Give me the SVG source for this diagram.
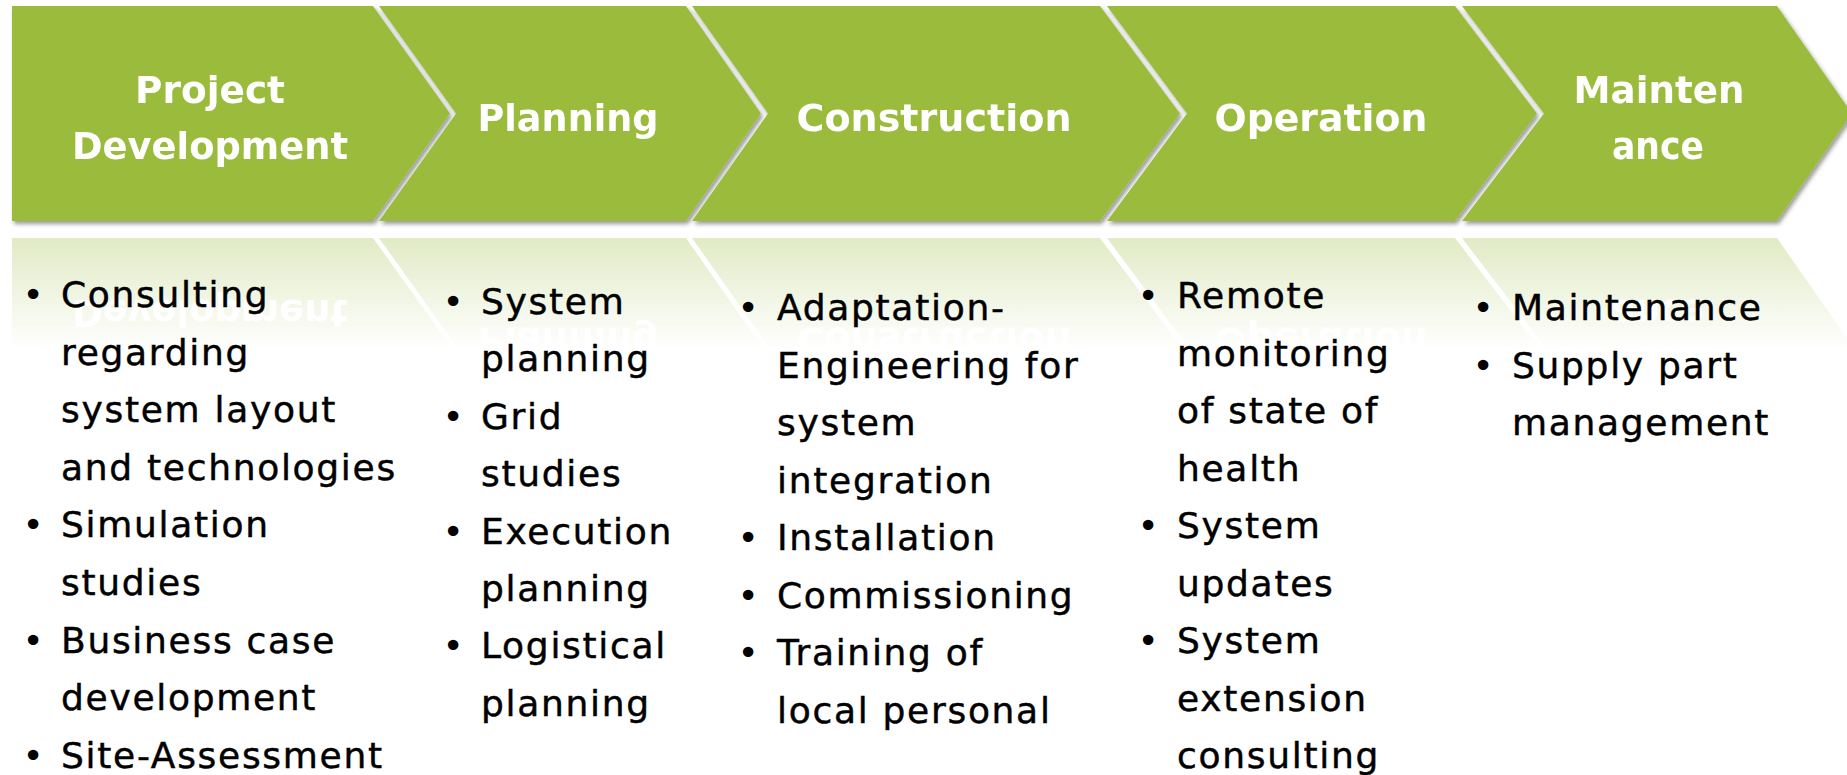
<svg xmlns="http://www.w3.org/2000/svg" xmlns:xlink="http://www.w3.org/1999/xlink" width="1847" height="775" viewBox="0 0 1847 775">
  <style>
    .chev { fill: #9BBB3E; }
    .head { font-family: "DejaVu Sans", "Liberation Sans", sans-serif; font-weight: bold; font-size: 38px; fill: #FFFFFF; text-anchor: middle; }
    .body { font-family: "DejaVu Sans", "Liberation Sans", sans-serif; font-size: 36px; fill: #000000; stroke: #000000; stroke-width: 0.45px; letter-spacing: 1.7px; }
    .bul { font-family: "DejaVu Sans", "Liberation Sans", sans-serif; font-size: 36px; fill: #000000; text-anchor: middle; }
  </style>
  <defs>
    <filter id="shadow" x="-5%" y="-10%" width="110%" height="130%">
      <feDropShadow dx="2" dy="3" stdDeviation="2.2" flood-color="#000000" flood-opacity="0.4"/>
    </filter>
    <linearGradient id="fadeGrad" gradientUnits="userSpaceOnUse" x1="0" y1="238" x2="0" y2="350">
      <stop offset="0" stop-color="#FFFFFF" stop-opacity="0.3"/>
      <stop offset="1" stop-color="#FFFFFF" stop-opacity="0"/>
    </linearGradient>
    <mask id="fade" maskUnits="userSpaceOnUse" x="0" y="230" width="1847" height="140">
      <rect x="0" y="230" width="1847" height="140" fill="url(#fadeGrad)"/>
    </mask>
  </defs>
  <rect x="0" y="0" width="1847" height="775" fill="#FFFFFF"/>

  <!-- reflection of the chevron row -->
  <g id="reflection" mask="url(#fade)">
    <use xlink:href="#chevrons" href="#chevrons" transform="translate(0,459) scale(1,-1)"/>
  </g>

  <g filter="url(#shadow)">
    <g id="chevrons">
      <g id="node-project-development">
        <polygon class="chev" points="12,6 373,6 450,113.5 373,221 12,221"/>
        <text class="head" x="210" y="103" textLength="150" lengthAdjust="spacingAndGlyphs">Project</text>
        <text class="head" x="210" y="159" textLength="276" lengthAdjust="spacingAndGlyphs">Development</text>
      </g>
      <g id="node-planning">
        <polygon class="chev" points="379,6 686,6 761,113.5 686,221 379,221 456,113.5"/>
        <text class="head" x="568" y="131" textLength="181" lengthAdjust="spacingAndGlyphs">Planning</text>
      </g>
      <g id="node-construction">
        <polygon class="chev" points="692,6 1100,6 1180,113.5 1100,221 692,221 768,113.5"/>
        <text class="head" x="934" y="131" textLength="275" lengthAdjust="spacingAndGlyphs">Construction</text>
      </g>
      <g id="node-operation">
        <polygon class="chev" points="1107,6 1455,6 1537,113.5 1455,221 1107,221 1187,113.5"/>
        <text class="head" x="1321" y="131" textLength="213" lengthAdjust="spacingAndGlyphs">Operation</text>
      </g>
      <g id="node-maintenance">
        <polygon class="chev" points="1462,6 1777,6 1852,113.5 1777,221 1462,221 1544,113.5"/>
        <text class="head" x="1659" y="103" textLength="171" lengthAdjust="spacingAndGlyphs">Mainten</text>
        <text class="head" x="1658" y="159" textLength="92" lengthAdjust="spacingAndGlyphs">ance</text>
      </g>
    </g>
  </g>

  <g id="connectors"></g>

  <g id="list-project-development">
    <text class="bul" x="33" y="307">•</text>
    <text class="body" x="61" y="307">Consulting</text>
    <text class="body" x="61" y="364.6">regarding</text>
    <text class="body" x="61" y="422.2">system layout</text>
    <text class="body" x="61" y="479.8">and technologies</text>
    <text class="bul" x="33" y="537.4">•</text>
    <text class="body" x="61" y="537.4">Simulation</text>
    <text class="body" x="61" y="595">studies</text>
    <text class="bul" x="33" y="652.6">•</text>
    <text class="body" x="61" y="652.6">Business case</text>
    <text class="body" x="61" y="710.2">development</text>
    <text class="bul" x="33" y="767.8">•</text>
    <text class="body" x="61" y="767.8">Site-Assessment</text>
  </g>

  <g id="list-planning">
    <text class="bul" x="453" y="314">•</text>
    <text class="body" x="481" y="314">System</text>
    <text class="body" x="481" y="371.4">planning</text>
    <text class="bul" x="453" y="428.8">•</text>
    <text class="body" x="481" y="428.8">Grid</text>
    <text class="body" x="481" y="486.2">studies</text>
    <text class="bul" x="453" y="543.6">•</text>
    <text class="body" x="481" y="543.6">Execution</text>
    <text class="body" x="481" y="601">planning</text>
    <text class="bul" x="453" y="658.4">•</text>
    <text class="body" x="481" y="658.4">Logistical</text>
    <text class="body" x="481" y="715.8">planning</text>
  </g>

  <g id="list-construction">
    <text class="bul" x="748" y="320">•</text>
    <text class="body" x="777" y="320">Adaptation-</text>
    <text class="body" x="777" y="377.5">Engineering for</text>
    <text class="body" x="777" y="435">system</text>
    <text class="body" x="777" y="492.5">integration</text>
    <text class="bul" x="748" y="550">•</text>
    <text class="body" x="777" y="550">Installation</text>
    <text class="bul" x="748" y="607.5">•</text>
    <text class="body" x="777" y="607.5">Commissioning</text>
    <text class="bul" x="748" y="665">•</text>
    <text class="body" x="777" y="665">Training of</text>
    <text class="body" x="777" y="722.5">local personal</text>
  </g>

  <g id="list-operation">
    <text class="bul" x="1148" y="308">•</text>
    <text class="body" x="1177" y="308">Remote</text>
    <text class="body" x="1177" y="365.5">monitoring</text>
    <text class="body" x="1177" y="423">of state of</text>
    <text class="body" x="1177" y="480.5">health</text>
    <text class="bul" x="1148" y="538">•</text>
    <text class="body" x="1177" y="538">System</text>
    <text class="body" x="1177" y="595.5">updates</text>
    <text class="bul" x="1148" y="653">•</text>
    <text class="body" x="1177" y="653">System</text>
    <text class="body" x="1177" y="710.5">extension</text>
    <text class="body" x="1177" y="768">consulting</text>
  </g>

  <g id="list-maintenance">
    <text class="bul" x="1483" y="320">•</text>
    <text class="body" x="1512" y="320">Maintenance</text>
    <text class="bul" x="1483" y="377.5">•</text>
    <text class="body" x="1512" y="377.5">Supply part</text>
    <text class="body" x="1512" y="435">management</text>
  </g>
</svg>
